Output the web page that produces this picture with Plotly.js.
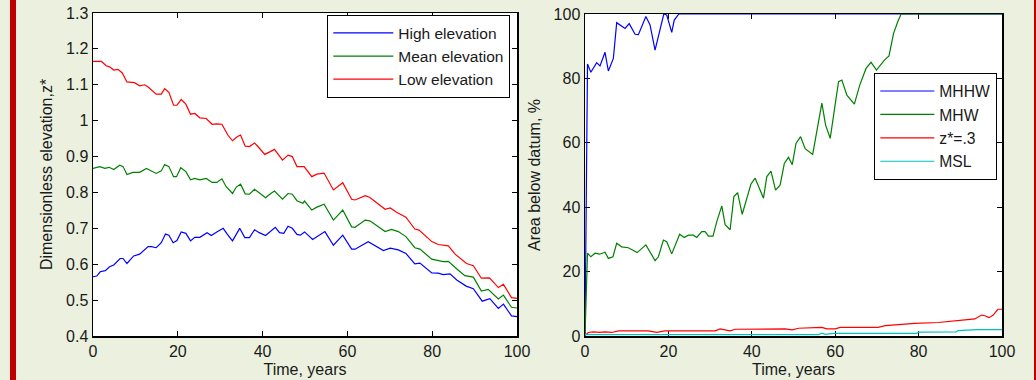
<!DOCTYPE html>
<html>
<head>
<meta charset="utf-8">
<script src="https://cdn.plot.ly/plotly-3.0.1.min.js"></script>
<style>
html,body{margin:0;padding:0;background:#EBF1DE;}
#chart{width:1036px;height:380px;}
</style>
</head>
<body>
<div id="chart"></div>
<script>
// ---------- Left panel: dimensionless elevation ----------
const tLow = [0,2,3.1,3.9,4.9,5.9,6.9,8,9.8,11,12.2,13,14.9,16.1,16.9,17.9,19,19.8,20.8,21.9,23,24,25.2,26.7,28.1,29.2,30.4,31.8,32.9,34,34.8,35.9,36.9,38.1,38.9,40.5,41.7,42.8,44.7,46,47,48.1,49.8,51.6,52.8,54.5,56.7,58.9,61,61.8,64.2,65.3,68.9,70.1,71.6,73.8,75.9,76.9,79.9,81.4,83.8,85.4,88.1,89.7,91.6,93.5,95.6,96.8,98.7,100];
const lowElev = [1.165,1.165,1.153,1.150,1.141,1.143,1.133,1.108,1.106,1.097,1.100,1.094,1.074,1.074,1.089,1.079,1.043,1.043,1.059,1.046,1.018,1.020,1.008,1.006,0.990,0.991,0.990,0.960,0.944,0.955,0.960,0.929,0.928,0.938,0.928,0.906,0.913,0.920,0.890,0.904,0.900,0.872,0.872,0.844,0.851,0.854,0.807,0.827,0.781,0.779,0.791,0.786,0.753,0.757,0.745,0.731,0.698,0.695,0.663,0.655,0.651,0.628,0.602,0.596,0.561,0.562,0.535,0.544,0.507,0.505];

const tMean = [0,1.6,2.8,3.8,4.9,6.3,7.1,8,9.4,11,12.6,13.4,14.9,16.1,16.9,17.9,19,19.7,20.7,21.9,23,24,25.2,26.7,28.1,29.2,30.4,31.4,32.9,33.8,34.8,35.9,36.9,38.1,39.2,40.7,41.7,42.8,44.7,46,47,48.1,49.5,49.9,51.6,52.8,54.5,56.7,58.9,61,61.8,64.2,65.3,68.9,70.4,72,73.8,75.9,77.1,79.9,82.6,83.8,86.1,87.7,89.7,91.6,93.2,95.6,96.8,98.7,100];
const meanElev = [0.867,0.872,0.867,0.870,0.864,0.876,0.872,0.850,0.856,0.856,0.867,0.862,0.853,0.860,0.878,0.872,0.844,0.844,0.869,0.858,0.835,0.839,0.835,0.839,0.828,0.828,0.838,0.816,0.797,0.815,0.823,0.796,0.795,0.809,0.799,0.785,0.795,0.804,0.781,0.797,0.795,0.777,0.770,0.776,0.751,0.759,0.767,0.723,0.751,0.704,0.703,0.723,0.721,0.691,0.697,0.691,0.677,0.646,0.642,0.614,0.607,0.608,0.584,0.568,0.564,0.525,0.530,0.503,0.514,0.480,0.478];

const tHigh = [0,0.9,1.7,2.9,3.9,4.9,6.4,7.1,8,9.6,11,13,13.8,14.9,16.1,17.1,17.9,18.9,19.8,20.8,21.9,23,24,25.2,26.9,27.9,29.2,30.7,31.7,32.9,34.6,35.8,36.9,38.1,39.2,40.7,43,44,45,46,47,48.1,48.9,49.9,51.8,54.7,56.7,58.9,61,61.8,64.9,68.5,70.1,72,73.8,75.9,77.1,79.9,81.4,82.6,84.2,85.8,88,89.7,91.8,93.6,95.6,96.8,98.7,100];
const highElev = [0.565,0.567,0.579,0.582,0.593,0.598,0.616,0.616,0.602,0.623,0.628,0.649,0.649,0.646,0.660,0.684,0.681,0.660,0.666,0.690,0.686,0.665,0.675,0.675,0.688,0.680,0.690,0.700,0.683,0.665,0.700,0.674,0.674,0.696,0.688,0.680,0.703,0.688,0.686,0.706,0.700,0.683,0.681,0.690,0.669,0.691,0.653,0.681,0.642,0.642,0.663,0.638,0.645,0.640,0.630,0.601,0.603,0.576,0.575,0.571,0.573,0.556,0.539,0.532,0.497,0.504,0.477,0.489,0.456,0.454];

// ---------- Right panel: area below datum, % ----------
const tMHHW = [0,0.6,1.4,2.8,3.6,4.8,5.6,6.8,7.6,9.6,10.6,12,12.8,14.6,15.6,16.8,17.7,18.9,19.6,20.8,21.4,22.5,100];
const areaMHHW = [0,84.5,81.9,84.9,83.9,88.1,82.3,86.2,97.3,95.5,97.0,93.7,93.6,99.2,96.6,88.8,93.6,100,99.7,94.3,98.1,100,100];

const tMHW = [0,0.6,1.4,2.4,3.5,4.8,5.6,6.7,7.6,8.8,10.4,12.5,14.6,15.6,16.8,17.6,18.8,19.6,20.8,22.7,23.8,24.8,26,26.8,28,28.8,29.6,30.7,31.6,32.8,33.6,34.8,35.7,36.6,37.7,39.8,40.8,42.8,43.6,44.6,45.7,46.8,47.8,48.8,49.7,50.6,51.7,52.8,54.6,56.8,57.7,58.8,60.8,61.6,62.8,64.6,65.9,67.4,68.6,69.9,70.7,71.8,72.9,74,75,75.8,100];
const areaMHW = [0,25.7,24.6,25.7,25.4,26.0,24.1,24.6,28.8,27.7,27.4,25.9,28.3,26.2,23.4,24.6,29.8,29.3,25.5,31.6,30.6,31.3,31.3,30.6,32.4,32.4,31.0,31.0,35.5,40.4,34.6,33.0,43.3,44.5,37.8,47.2,49.0,42.8,49.5,51.2,45.3,46.9,53.6,55.5,53.2,59.8,61.9,58.2,56.4,72.3,65.5,61.4,79.0,79.5,74.8,72.0,78.0,83.1,85.0,82.6,83.9,85.7,87.0,94.0,97.6,100,100];

const tZ03 = [0,0.8,2,3.6,4.8,6.4,8,15.2,17.2,19.2,31.2,32.4,34.8,36,48,49.7,51.2,56.8,58,60,61.2,70.3,72,75.1,79.1,84.7,87.9,91.1,93.5,95.1,95.9,96.9,97.9,99,100];
const areaZ03 = [0.2,1.1,1.3,1.1,1.3,1.1,1.6,1.6,1.1,1.6,1.6,2.2,1.6,2.1,2.2,1.9,2.4,2.7,2.2,2.2,2.7,2.7,3.2,3.6,3.9,4.2,4.5,5.0,5.3,6.5,6.3,5.7,6.5,8.3,8.3];

const tMSL = [0,56,56.8,57.6,59.6,79.5,80,89,89.5,94,100];
const areaMSL = [0.4,0.4,0.9,0.5,0.8,0.8,1.2,1.3,1.7,2.0,2.0];

// ---------- Tick labels ----------
const timeTicks = [0,20,40,60,80,100];
const timeTickText = ['0','20','40','60','80','100'];
const elevTicks = [0.4,0.5,0.6,0.7,0.8,0.9,1.0,1.1,1.2,1.3];
const elevTickText = ['0.4','0.5','0.6','0.7','0.8','0.9','1','1.1','1.2','1.3'];
const areaTicks = [0,20,40,60,80,100];
const areaTickText = ['0','20','40','60','80','100'];

const W = 1036, H = 380;
const px = v => v / W, py = v => 1 - v / H;

const lineStyle = c => ({color: c, width: 1.2});
const traces = [
  {x: tHigh, y: highElev, name: 'High elevation', type: 'scatter', mode: 'lines', line: lineStyle('#0000FF'), xaxis: 'x', yaxis: 'y', legend: 'legend'},
  {x: tMean, y: meanElev, name: 'Mean elevation', type: 'scatter', mode: 'lines', line: lineStyle('#008000'), xaxis: 'x', yaxis: 'y', legend: 'legend'},
  {x: tLow, y: lowElev, name: 'Low elevation', type: 'scatter', mode: 'lines', line: lineStyle('#FF0000'), xaxis: 'x', yaxis: 'y', legend: 'legend'},
  {x: tMHHW, y: areaMHHW, name: 'MHHW', type: 'scatter', mode: 'lines', line: lineStyle('#0000FF'), xaxis: 'x2', yaxis: 'y2', legend: 'legend2'},
  {x: tMHW, y: areaMHW, name: 'MHW', type: 'scatter', mode: 'lines', line: lineStyle('#008000'), xaxis: 'x2', yaxis: 'y2', legend: 'legend2'},
  {x: tZ03, y: areaZ03, name: 'z*=.3', type: 'scatter', mode: 'lines', line: lineStyle('#FF0000'), xaxis: 'x2', yaxis: 'y2', legend: 'legend2'},
  {x: tMSL, y: areaMSL, name: 'MSL', type: 'scatter', mode: 'lines', line: lineStyle('#00BFBF'), xaxis: 'x2', yaxis: 'y2', legend: 'legend2'}
];

const fam = 'Liberation Sans, Arial, sans-serif';
const font = {family: fam, size: 16, color: '#1a1a1a'};
const legFontL = {family: fam, size: 15.5, color: '#1a1a1a'};
const legFontR = {family: fam, size: 15.7, color: '#1a1a1a'};
const axisBase = {
  showgrid: false, zeroline: false, showline: true, mirror: 'ticks',
  linecolor: '#000', linewidth: 1.5, ticks: 'inside', ticklen: 5, tickwidth: 1,
  tickcolor: '#000', tickmode: 'array', fixedrange: true, layer: 'below traces',
  tickfont: font
};

const layout = {
  width: W, height: H,
  margin: {l: 0, r: 0, t: 0, b: 0},
  paper_bgcolor: '#EBF1DE',
  plot_bgcolor: '#FFFFFF',
  font: font,
  xaxis: Object.assign({}, axisBase, {domain: [px(93), px(517)], range: [0, 100], tickvals: timeTicks, ticktext: timeTickText, anchor: 'y',
    title: {text: 'Time, years', font: font, standoff: 5}}),
  yaxis: Object.assign({}, axisBase, {domain: [py(336), py(13)], range: [0.4, 1.3], tickvals: elevTicks, ticktext: elevTickText, anchor: 'x',
    title: {text: 'Dimensionless elevation,z*', font: font, standoff: 9}}),
  xaxis2: Object.assign({}, axisBase, {domain: [px(585), px(1002)], range: [0, 100], tickvals: timeTicks, ticktext: timeTickText, anchor: 'y2',
    title: {text: 'Time, years', font: font, standoff: 5}}),
  yaxis2: Object.assign({}, axisBase, {domain: [py(336), py(14)], range: [0, 100], tickvals: areaTicks, ticktext: areaTickText, anchor: 'x2',
    title: {text: 'Area below datum, %', font: font, standoff: 9}}),
  showlegend: true,
  legend: {x: px(510), y: py(15), xanchor: 'right', yanchor: 'top', bgcolor: '#FFFFFF', bordercolor: '#000', borderwidth: 1.3,
    font: legFontL, itemwidth: 60, tracegroupgap: 0},
  legend2: {x: px(997), y: py(73), xanchor: 'right', yanchor: 'top', bgcolor: '#FFFFFF', bordercolor: '#000', borderwidth: 1.3,
    font: legFontR, itemwidth: 54, tracegroupgap: 0},
  shapes: [
    {type: 'rect', xref: 'paper', yref: 'paper', x0: px(10), x1: px(16), y0: 0, y1: 1, fillcolor: '#C00000', line: {width: 0}, layer: 'above'},
    {type: 'rect', xref: 'paper', yref: 'paper', x0: px(1034), x1: 1, y0: 0, y1: 1, fillcolor: '#C00000', line: {width: 0}, layer: 'above'}
  ]
};

Plotly.newPlot('chart', traces, layout, {displayModeBar: false, staticPlot: true});
</script>
</body>
</html>
